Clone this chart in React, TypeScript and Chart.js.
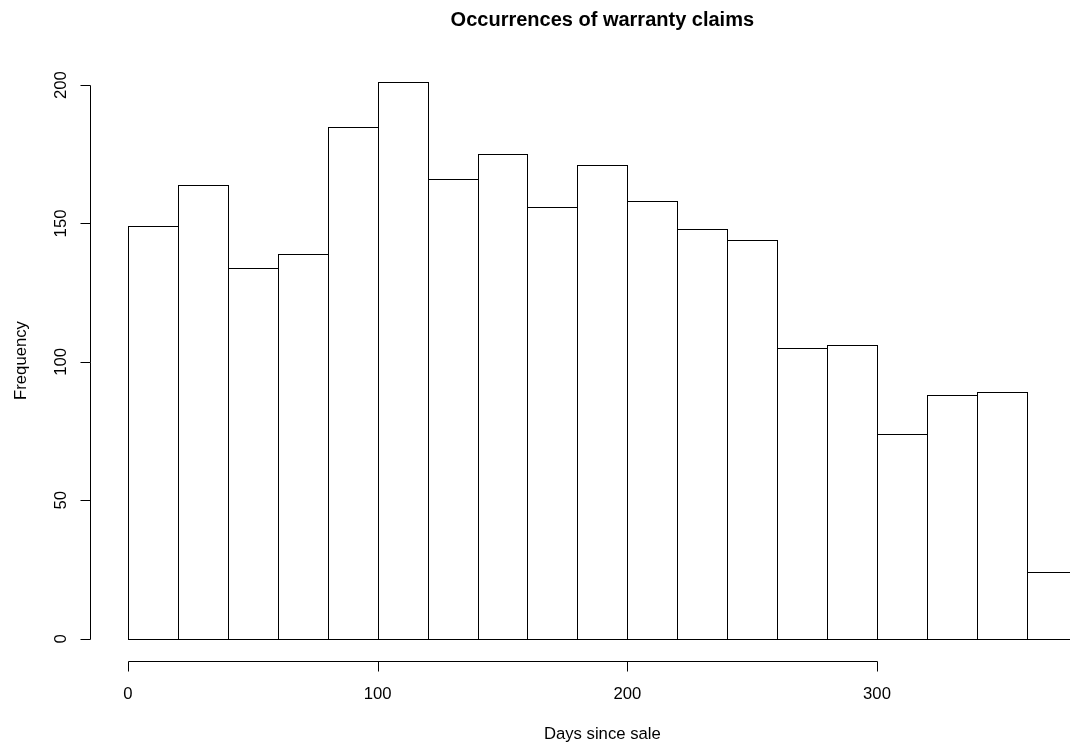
import React, { useEffect, useRef } from "react";
import { Chart, registerables } from "chart.js";

Chart.register(...registerables);

// ---- Data ----
const binStarts = [0, 20, 40, 60, 80, 100, 120, 140, 160, 180, 200, 220, 240, 260, 280, 300, 320, 340, 360];
const binWidth = 20;
const counts = [149, 164, 134, 139, 185, 201, 166, 175, 156, 171, 158, 148, 144, 105, 106, 74, 88, 89, 24];
const xTicks = [0, 100, 200, 300];
const yTicks = [0, 50, 100, 150, 200];
const titleText = "Occurrences of warranty claims";
const xLabel = "Days since sale";
const yLabel = "Frequency";

// R-style user coordinate extents (4% expansion)
const xUsrMin = -15.2;
const xUsrMax = 395.2;
const xVisibleMax = 377.3; // where the device cuts the plot on the right
const yUsrMin = -8.04;
const yUsrMax = 209.04;

const FONT = "'Liberation Sans', Arial, Helvetica, sans-serif";

const rPlugin = {
  id: "rStyle",
  afterDatasetsDraw(chart: any) {
    const ctx = chart.ctx;
    const meta = chart.getDatasetMeta(0);
    ctx.save();
    ctx.strokeStyle = "#000";
    ctx.lineWidth = 1;
    meta.data.forEach((el: any) => {
      const p = el.getProps(["x", "y", "base", "width"], true);
      const l = Math.round(p.x - p.width / 2);
      const r = Math.round(p.x + p.width / 2);
      const t = Math.round(p.y);
      const b = Math.round(p.base);
      ctx.strokeRect(l + 0.5, t + 0.5, r - l, b - t);
    });
    ctx.restore();
  },
  afterDraw(chart: any) {
    const ctx = chart.ctx;
    const xs = chart.scales.x;
    const ys = chart.scales.y;
    const area = chart.chartArea;
    ctx.save();
    ctx.strokeStyle = "#000";
    ctx.fillStyle = "#000";
    ctx.lineWidth = 1;

    // Y axis
    const ax = Math.round(area.left) + 0.5;
    const y0 = Math.round(ys.getPixelForValue(yTicks[0])) + 0.5;
    const y1 = Math.round(ys.getPixelForValue(yTicks[yTicks.length - 1])) + 0.5;
    ctx.beginPath();
    ctx.moveTo(ax, y0);
    ctx.lineTo(ax, y1);
    yTicks.forEach((v) => {
      const py = Math.round(ys.getPixelForValue(v)) + 0.5;
      ctx.moveTo(ax, py);
      ctx.lineTo(ax - 10, py);
    });
    ctx.stroke();

    ctx.font = `16.7px ${FONT}`;
    ctx.textAlign = "center";
    ctx.textBaseline = "alphabetic";
    yTicks.forEach((v) => {
      const py = ys.getPixelForValue(v);
      ctx.save();
      ctx.translate(66, py);
      ctx.rotate(-Math.PI / 2);
      ctx.fillText(String(v), 0, 0);
      ctx.restore();
    });

    // X axis
    const ay = Math.round(area.bottom) + 0.5;
    const x0 = Math.round(xs.getPixelForValue(xTicks[0])) + 0.5;
    const x1 = Math.round(xs.getPixelForValue(xTicks[xTicks.length - 1])) + 0.5;
    ctx.beginPath();
    ctx.moveTo(x0, ay);
    ctx.lineTo(x1, ay);
    xTicks.forEach((v) => {
      const px = Math.round(xs.getPixelForValue(v)) + 0.5;
      ctx.moveTo(px, ay);
      ctx.lineTo(px, ay + 10);
    });
    ctx.stroke();

    xTicks.forEach((v) => {
      ctx.fillText(String(v), xs.getPixelForValue(v), 698.5);
    });

    // Titles
    const cx = xs.getPixelForValue((xUsrMin + xUsrMax) / 2);
    ctx.fillText(xLabel, cx, 738.5);

    ctx.save();
    ctx.translate(26, (area.top + area.bottom) / 2);
    ctx.rotate(-Math.PI / 2);
    ctx.fillText(yLabel, 0, 0);
    ctx.restore();

    ctx.font = `bold 20px ${FONT}`;
    ctx.fillText(titleText, cx, 26);

    ctx.restore();
  },
};

export default function App() {
  const canvasRef = useRef<HTMLCanvasElement | null>(null);

  useEffect(() => {
    document.body.style.margin = "0";
    const canvas = canvasRef.current;
    if (!canvas) return;
    const chart = new Chart(canvas, {
      type: "bar",
      data: {
        datasets: [
          {
            data: binStarts.map((s, i) => ({ x: s + binWidth / 2, y: counts[i] })),
            backgroundColor: "#ffffff",
            borderWidth: 0,
            barPercentage: 1,
            categoryPercentage: 1,
          } as any,
        ],
      },
      options: {
        responsive: false,
        animation: false,
        devicePixelRatio: 1,
        layout: { padding: { left: 90, right: 0, top: 60, bottom: 84 } },
        scales: {
          x: { type: "linear", min: xUsrMin, max: xVisibleMax, offset: false, display: false },
          y: { type: "linear", min: yUsrMin, max: yUsrMax, display: false },
        },
        plugins: {
          legend: { display: false },
          tooltip: { enabled: false },
          title: { display: false },
        },
      },
      plugins: [rPlugin],
    });
    return () => chart.destroy();
  }, []);

  return (
    <div style={{ width: 1070, height: 745, background: "#fff" }}>
      <canvas ref={canvasRef} width={1070} height={745} style={{ display: "block" }} />
    </div>
  );
}
